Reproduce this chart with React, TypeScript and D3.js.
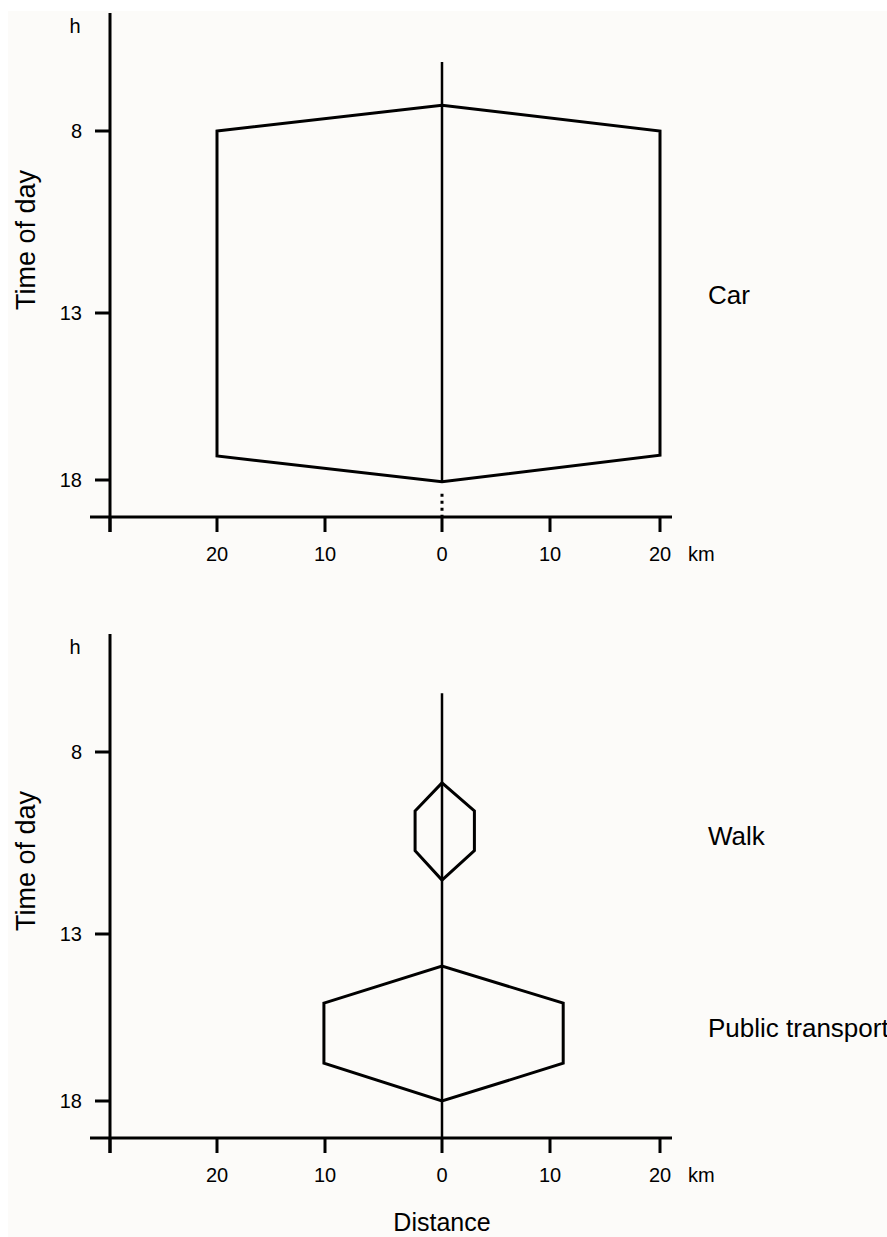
import React from 'react';
import * as d3 from 'd3';

// distance ticks (km), signed: left of 0 is one direction, right is the other
const distTicks = [-30, -20, -10, 0, 10, 20];
const distTickLabels = ['', '20', '10', '0', '10', '20'];
// time ticks (h)
const timeTicks = [8, 13, 18];

// car trip: [km, hour]
const carShape: [number, number][] = [
  [-20, 8.0], [0, 7.29], [20, 8.0], [20, 17.26], [0, 18.05], [-20, 17.28],
];
const walkShape: [number, number][] = [
  [-2.3, 9.62], [0, 8.85], [3.0, 9.62], [3.0, 10.71], [0, 11.52], [-2.3, 10.71],
];
const transitShape: [number, number][] = [
  [-10.1, 15.07], [0, 13.96], [11.2, 15.07], [11.2, 16.87], [0, 18.0], [-10.1, 16.87],
];

const modeLabels = ['Car', 'Walk', 'Public transport'];
const modeLabelTimes = [12.5, 10.3, 15.8];

const FONT = '"Liberation Sans", Arial, sans-serif';

// the original drawing is not quite even, so the scales are piecewise
const x = d3.scaleLinear()
  .domain([-31.9, -30, -20, -10, 0, 10, 20, 21.1])
  .range([90, 110, 217, 325, 442, 550, 660, 672]);

const makeY = (offset: number) => d3.scaleLinear()
  .domain([4.75, 8, 13, 18, 19.1])
  .range([13, 131, 313, 480, 517].map(v => v + offset));

const line = (y: d3.ScaleLinear<number, number>) =>
  d3.line<[number, number]>().x(d => x(d[0])).y(d => y(d[1])).curve(d3.curveLinearClosed);

interface PanelProps {
  offset: number;
  shapes: [number, number][][];
  spineTop: number;
  dotted: boolean;
  labels: { text: string; t: number }[];
}

const Panel: React.FC<PanelProps> = ({ offset, shapes, spineTop, dotted, labels }) => {
  const y = makeY(offset);
  const path = line(y);
  const axisY = y(19.1);
  const lastShapeBottom = d3.max(shapes, s => d3.max(s, p => p[1])) as number;
  return (
    <g>
      {/* y axis */}
      <line x1={x(-30)} x2={x(-30)} y1={y(4.75)} y2={axisY + 15} stroke="#000" strokeWidth={3} />
      {timeTicks.map(t => (
        <g key={t}>
          <line x1={x(-30) - 15} x2={x(-30)} y1={y(t)} y2={y(t)} stroke="#000" strokeWidth={3} />
          <text x={x(-30) - 28} y={y(t)} dy="0.35em" textAnchor="end" fontSize={20}>{t}</text>
        </g>
      ))}
      <text x={75} y={y(4.75) + 20} textAnchor="middle" fontSize={20}>h</text>
      <text
        transform={`translate(35,${(y(4.75) + axisY) / 2 - 25}) rotate(-90)`}
        textAnchor="middle" fontSize={27}>Time of day</text>

      {/* x axis */}
      <line x1={x(-31.9)} x2={x(21.1)} y1={axisY} y2={axisY} stroke="#000" strokeWidth={3} />
      {distTicks.map((d, i) => (
        <g key={d}>
          <line x1={x(d)} x2={x(d)} y1={axisY} y2={axisY + 15} stroke="#000" strokeWidth={3} />
          <text x={x(d)} y={axisY + 44} textAnchor="middle" fontSize={20}>{distTickLabels[i]}</text>
        </g>
      ))}
      <text x={688} y={axisY + 44} fontSize={20}>km</text>

      {/* home spine */}
      <line x1={x(0)} x2={x(0)} y1={y(spineTop)} y2={dotted ? y(lastShapeBottom) : axisY}
        stroke="#000" strokeWidth={2.5} />
      {dotted && (
        <line x1={x(0)} x2={x(0)} y1={y(lastShapeBottom) + 12} y2={axisY}
          stroke="#000" strokeWidth={3} strokeDasharray="3 4" />
      )}

      {shapes.map((s, i) => (
        <path key={i} d={path(s) as string} fill="none" stroke="#000" strokeWidth={3}
          strokeLinejoin="miter" />
      ))}

      {labels.map(l => (
        <text key={l.text} x={708} y={y(l.t)} dy="0.35em" fontSize={26}>{l.text}</text>
      ))}
    </g>
  );
};

export default function App() {
  return (
    <svg width={879} height={1226}
      style={{ display: 'block', position: 'absolute', left: 8, top: 11, background: '#fcfbf9' }}
      fontFamily={FONT}>
      <g transform="translate(-8,-11)">
        <Panel offset={0} shapes={[carShape]} spineTop={6.1} dotted={true}
          labels={[{ text: modeLabels[0], t: modeLabelTimes[0] }]} />
        <Panel offset={621} shapes={[walkShape, transitShape]} spineTop={6.38} dotted={false}
          labels={[
            { text: modeLabels[1], t: modeLabelTimes[1] },
            { text: modeLabels[2], t: modeLabelTimes[2] },
          ]} />
        <text x={x(0)} y={1231} textAnchor="middle" fontSize={25}>Distance</text>
      </g>
    </svg>
  );
}
